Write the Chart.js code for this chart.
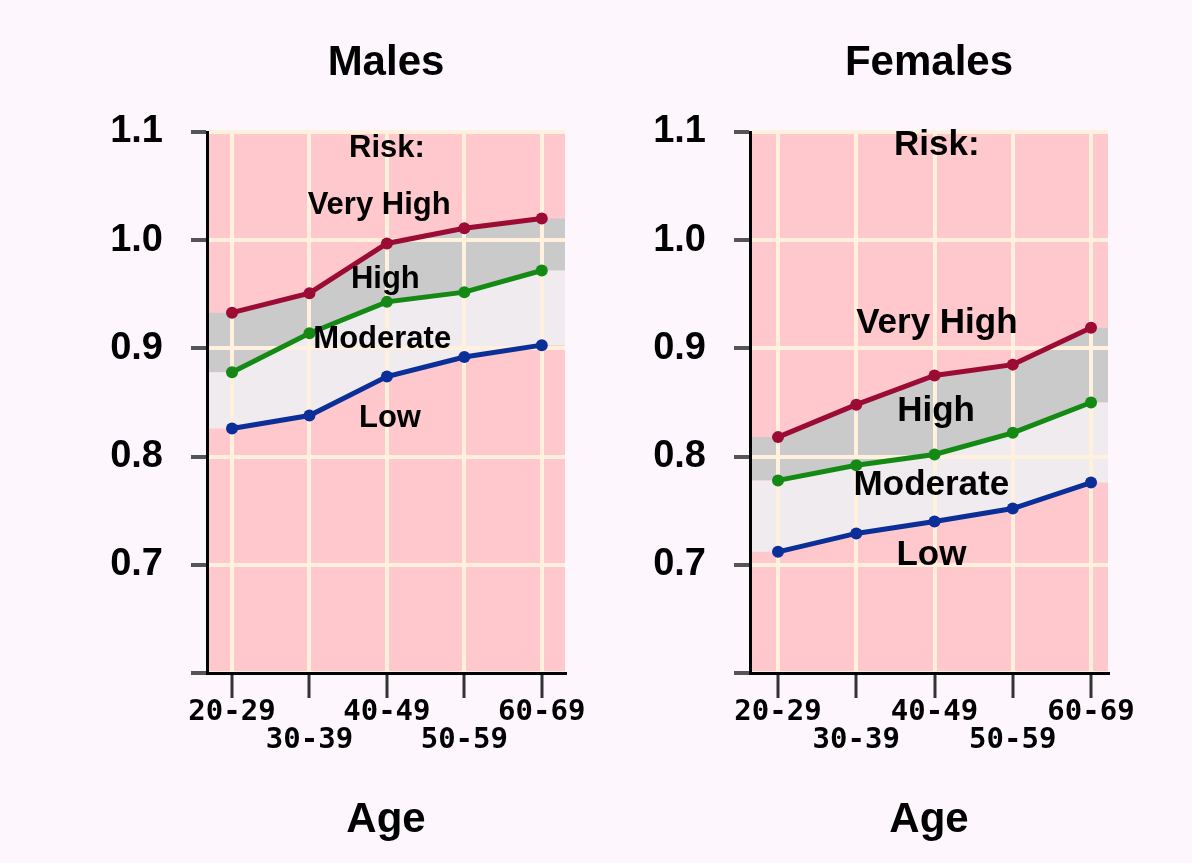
<!DOCTYPE html>
<html>
<head>
<meta charset="utf-8">
<script src="https://cdn.jsdelivr.net/npm/chart.js@4.4.0/dist/chart.umd.min.js"></script>
<style>
  html, body { margin: 0; padding: 0; background: #fdf7fd; }
  body { width: 1192px; height: 863px; position: relative; overflow: hidden; }
  canvas { position: absolute; top: 0; }
  #graficoHomens { left: 0; }
  #graficoMulheres { left: 560px; }
</style>
</head>
<body>
<canvas id="graficoHomens" width="600" height="863"></canvas>
<canvas id="graficoMulheres" width="632" height="863"></canvas>
<script>
// ... DADOS
const faixas = ["20-29", "30-39", "40-49", "50-59", "60-69"];
const yTicks = [0.6, 0.7, 0.8, 0.9, 1.0, 1.1];
const riscos = ["Risk:", "Very High", "High", "Moderate", "Low"];

// upper limit of each band (red = high/very high, green = moderate/high, blue = low/moderate)
const homensVermelho = [0.933, 0.951, 0.997, 1.011, 1.020];
const homensVerde = [0.878, 0.914, 0.943, 0.952, 0.972];
const homensAzul = [0.826, 0.838, 0.874, 0.892, 0.903];

const mulheresVermelho = [0.818, 0.848, 0.875, 0.885, 0.919];
const mulheresVerde = [0.778, 0.792, 0.802, 0.822, 0.850];
const mulheresAzul = [0.712, 0.729, 0.740, 0.752, 0.776];

// where the risk words sit (x = age group index, y = ratio)
const homensRotuloX = [2.0, 1.9, 1.98, 1.94, 2.04];
const homensRotuloY = [1.085, 1.032, 0.964, 0.908, 0.835];
const mulheresRotuloX = [2.03, 2.03, 2.02, 1.96, 1.96];
const mulheresRotuloY = [1.088, 0.923, 0.842, 0.773, 0.709];

function pontos(valores) {
  return valores.map((v, i) => ({ x: i, y: v }));
}

function preencherEntre(ctx, area, x, y, cima, baixo, cor) {
  const n = cima.length;
  ctx.beginPath();
  ctx.moveTo(area.left, y.getPixelForValue(cima[0].y));
  cima.forEach((p) => ctx.lineTo(x.getPixelForValue(p.x), y.getPixelForValue(p.y)));
  ctx.lineTo(area.right, y.getPixelForValue(cima[n - 1].y));
  ctx.lineTo(area.right, y.getPixelForValue(baixo[n - 1].y));
  for (let i = n - 1; i >= 0; i--) {
    ctx.lineTo(x.getPixelForValue(baixo[i].x), y.getPixelForValue(baixo[i].y));
  }
  ctx.lineTo(area.left, y.getPixelForValue(baixo[0].y));
  ctx.closePath();
  ctx.fillStyle = cor;
  ctx.fill();
}

const faixasRisco = {
  id: "faixasRisco",
  beforeDraw(chart) {
    const { ctx, chartArea, scales } = chart;
    const [vermelho, verde, azul] = chart.data.datasets.map((d) => d.data);
    ctx.save();
    ctx.fillStyle = "#ffc8cc";
    ctx.fillRect(chartArea.left, chartArea.top, chartArea.right - chartArea.left, chartArea.bottom - chartArea.top);
    preencherEntre(ctx, chartArea, scales.x, scales.y, vermelho, verde, "#cacaca");
    preencherEntre(ctx, chartArea, scales.x, scales.y, verde, azul, "#efebef");
    ctx.restore();
  },
  afterDatasetsDraw(chart, args, opts) {
    const { ctx, scales } = chart;
    ctx.save();
    ctx.fillStyle = "#000";
    ctx.textAlign = "center";
    ctx.textBaseline = "middle";
    ctx.font = "bold " + opts.tamanho + "px 'Liberation Sans', Arial, sans-serif";
    riscos.forEach((texto, i) => {
      ctx.fillText(texto, scales.x.getPixelForValue(opts.rotuloX[i]), scales.y.getPixelForValue(opts.rotuloY[i]));
    });
    ctx.restore();
  },
};

function criarGrafico(id, titulo, vermelho, verde, azul, rotuloX, rotuloY, tamanho, larguraY, padDireita, xMin, xMax) {
  const ctx = document.getElementById(id).getContext("2d");
  const linha = (label, valores, cor) => ({
    label: label,
    data: pontos(valores),
    borderColor: cor,
    backgroundColor: cor,
    borderWidth: 5,
    pointRadius: 6,
    pointBorderWidth: 0,
    fill: false,
    tension: 0,
  });

  return new Chart(ctx, {
    type: "line",
    data: {
      datasets: [
        linha("High / Very High", vermelho, "#9b0b34"),
        linha("Moderate / High", verde, "#148a14"),
        linha("Low / Moderate", azul, "#0b2f98"),
      ],
    },
    plugins: [faixasRisco],
    options: {
      responsive: false,
      animation: false,
      layout: { padding: { left: 0, right: padDireita, top: 0, bottom: 0 } },
      plugins: {
        legend: { display: false },
        tooltip: { enabled: false },
        title: {
          display: true,
          text: titulo,
          fullSize: false,
          color: "#000",
          font: { family: "'Liberation Sans', Arial, sans-serif", weight: "bold", size: 42, lineHeight: 1.2 },
          padding: { top: 38, bottom: 43.6 },
        },
        faixasRisco: { rotuloX: rotuloX, rotuloY: rotuloY, tamanho: tamanho },
      },
      scales: {
        x: {
          type: "linear",
          min: xMin,
          max: xMax,
          afterBuildTicks: (s) => {
            s.ticks = faixas.map((_, i) => ({ value: i }));
          },
          afterFit: (s) => {
            s.height = 190;
          },
          ticks: {
            autoSkip: false,
            maxRotation: 0,
            padding: 1,
            color: "#000",
            font: { family: "'DejaVu Sans Mono', monospace", weight: "bold", size: 29, lineHeight: 0.95 },
            callback: (v) => (v % 2 === 0 ? [faixas[v], ""] : ["", faixas[v]]),
          },
          grid: { color: "#fff1de", lineWidth: 4, tickColor: "#333", tickWidth: 3, tickLength: 25 },
          border: { color: "#000", width: 3 },
          title: {
            display: true,
            text: "Age",
            color: "#000",
            font: { family: "'Liberation Sans', Arial, sans-serif", weight: "bold", size: 42, lineHeight: 1.2 },
            padding: { top: 0, bottom: 17 },
          },
        },
        y: {
          min: 0.6,
          max: 1.1,
          afterBuildTicks: (s) => {
            s.ticks = yTicks.map((v) => ({ value: v }));
          },
          afterFit: (s) => {
            s.width = larguraY;
          },
          ticks: {
            padding: 28,
            color: "#000",
            font: { family: "'Liberation Sans', Arial, sans-serif", weight: "bold", size: 38 },
            callback: (v, i) => (i === 0 ? "" : v.toFixed(1)),
          },
          grid: { color: "#fff1de", lineWidth: 4, tickColor: "#555", tickWidth: 4, tickLength: 16 },
          border: { color: "#000", width: 3 },
        },
      },
    },
  });
}

criarGrafico("graficoHomens", "Males", homensVermelho, homensVerde, homensAzul, homensRotuloX, homensRotuloY, 31, 207, 35, -0.323, 4.30);
criarGrafico("graficoMulheres", "Females", mulheresVermelho, mulheresVerde, mulheresAzul, mulheresRotuloX, mulheresRotuloY, 35, 190, 84, -0.358, 4.217);
</script>
</body>
</html>
